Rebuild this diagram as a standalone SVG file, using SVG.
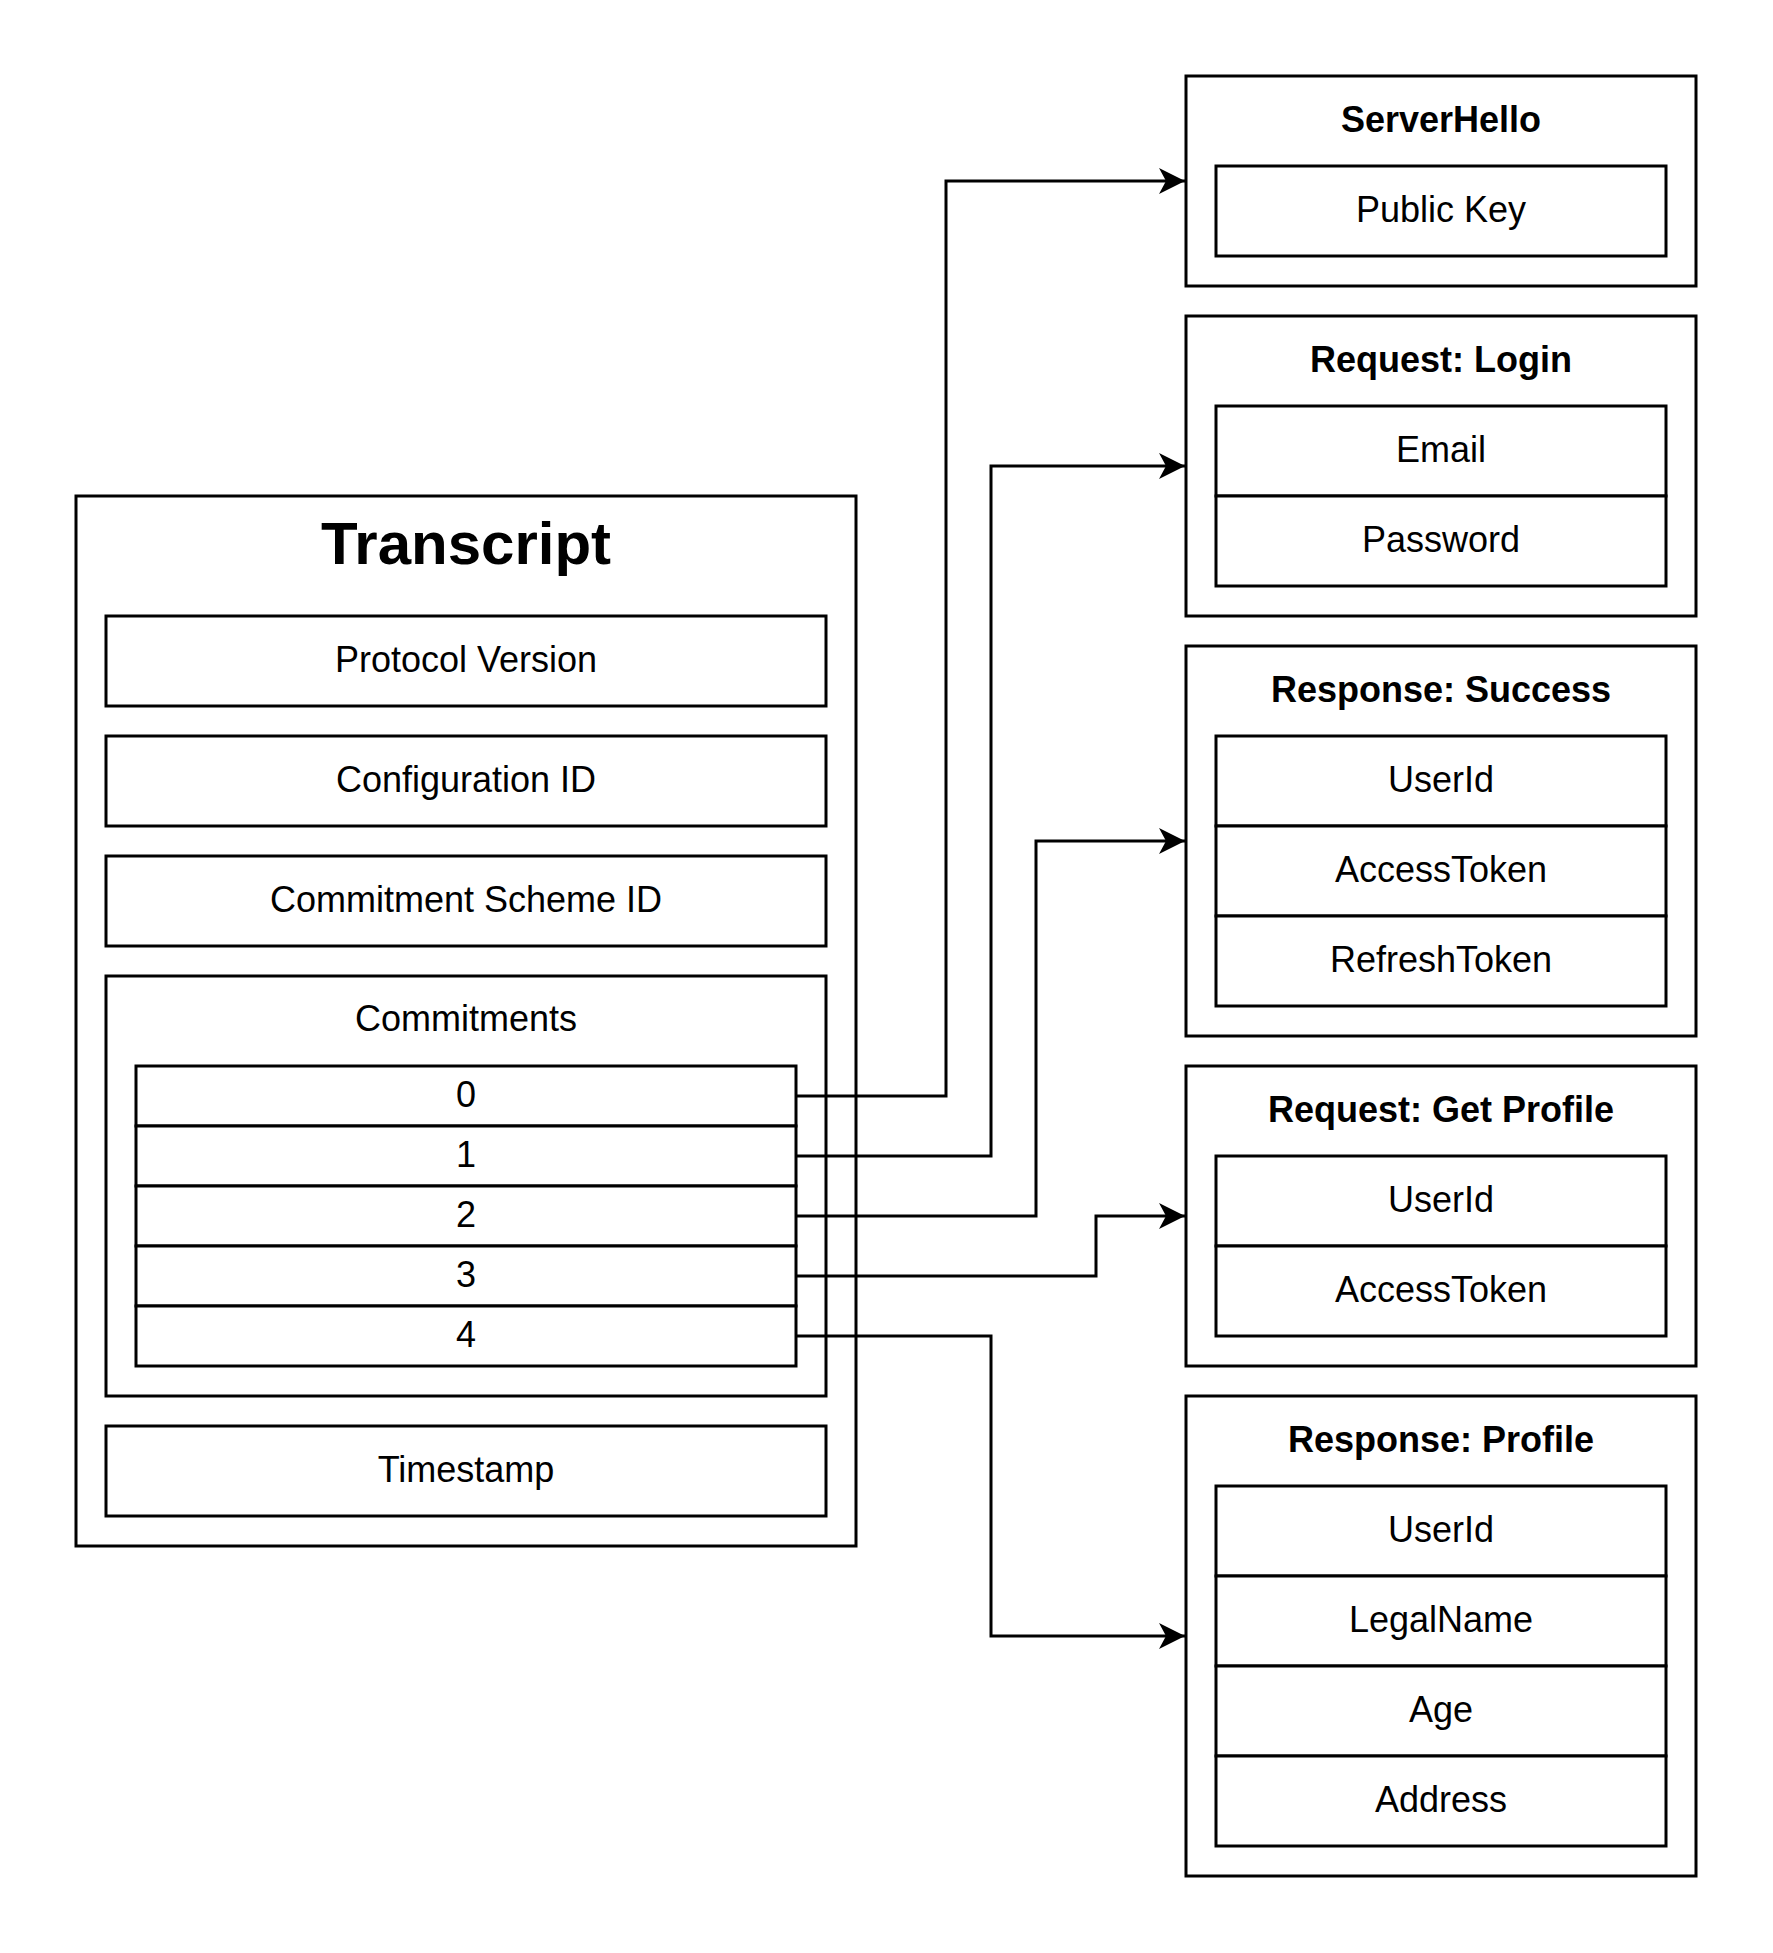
<svg xmlns="http://www.w3.org/2000/svg" width="1773" height="1953" viewBox="0 0 1773 1953">
<style>
.box{fill:#fff;stroke:#000;stroke-width:3}
.t{font-family:"Liberation Sans",Arial,sans-serif;font-size:36px;fill:#000;text-anchor:middle}
.b{font-weight:bold}
.title{font-family:"Liberation Sans",Arial,sans-serif;font-size:60px;font-weight:bold;fill:#000;text-anchor:middle}
.edge{fill:none;stroke:#000;stroke-width:3}
</style>
<defs>
<marker id="arrow" markerUnits="userSpaceOnUse" markerWidth="30" markerHeight="30" viewBox="-28 -15 30 30" refX="0" refY="0" orient="auto">
<path d="M0,0 L-26,-13 L-19,0 L-26,13 Z" fill="#000"/>
</marker>
</defs>
<rect width="1773" height="1953" fill="#fff"/>

<g id="transcript">
<rect class="box" x="76" y="496" width="780" height="1050"/>
<text class="title" x="466" y="564">Transcript</text>
</g>
<g id="protocol-version">
<rect class="box" x="106" y="616" width="720" height="90"/>
<text class="t" x="466" y="672">Protocol Version</text>
</g>
<g id="configuration-id">
<rect class="box" x="106" y="736" width="720" height="90"/>
<text class="t" x="466" y="792">Configuration ID</text>
</g>
<g id="commitment-scheme-id">
<rect class="box" x="106" y="856" width="720" height="90"/>
<text class="t" x="466" y="912">Commitment Scheme ID</text>
</g>
<g id="commitments">
<rect class="box" x="106" y="976" width="720" height="420"/>
<text class="t" x="466" y="1031">Commitments</text>
</g>
<g id="commitment-0">
<rect class="box" x="136" y="1066" width="660" height="60"/>
<text class="t" x="466" y="1107">0</text>
</g>
<g id="commitment-1">
<rect class="box" x="136" y="1126" width="660" height="60"/>
<text class="t" x="466" y="1167">1</text>
</g>
<g id="commitment-2">
<rect class="box" x="136" y="1186" width="660" height="60"/>
<text class="t" x="466" y="1227">2</text>
</g>
<g id="commitment-3">
<rect class="box" x="136" y="1246" width="660" height="60"/>
<text class="t" x="466" y="1287">3</text>
</g>
<g id="commitment-4">
<rect class="box" x="136" y="1306" width="660" height="60"/>
<text class="t" x="466" y="1347">4</text>
</g>
<g id="timestamp">
<rect class="box" x="106" y="1426" width="720" height="90"/>
<text class="t" x="466" y="1482">Timestamp</text>
</g>

<g id="server-hello">
<rect class="box" x="1186" y="76" width="510" height="210"/>
<text class="t b" x="1441" y="132">ServerHello</text>
<rect class="box" x="1216" y="166" width="450" height="90"/>
<text class="t" x="1441" y="222">Public Key</text>
</g>

<g id="request-login">
<rect class="box" x="1186" y="316" width="510" height="300"/>
<text class="t b" x="1441" y="372">Request: Login</text>
<rect class="box" x="1216" y="406" width="450" height="90"/>
<text class="t" x="1441" y="462">Email</text>
<rect class="box" x="1216" y="496" width="450" height="90"/>
<text class="t" x="1441" y="552">Password</text>
</g>

<g id="response-success">
<rect class="box" x="1186" y="646" width="510" height="390"/>
<text class="t b" x="1441" y="702">Response: Success</text>
<rect class="box" x="1216" y="736" width="450" height="90"/>
<text class="t" x="1441" y="792">UserId</text>
<rect class="box" x="1216" y="826" width="450" height="90"/>
<text class="t" x="1441" y="882">AccessToken</text>
<rect class="box" x="1216" y="916" width="450" height="90"/>
<text class="t" x="1441" y="972">RefreshToken</text>
</g>

<g id="request-get-profile">
<rect class="box" x="1186" y="1066" width="510" height="300"/>
<text class="t b" x="1441" y="1122">Request: Get Profile</text>
<rect class="box" x="1216" y="1156" width="450" height="90"/>
<text class="t" x="1441" y="1212">UserId</text>
<rect class="box" x="1216" y="1246" width="450" height="90"/>
<text class="t" x="1441" y="1302">AccessToken</text>
</g>

<g id="response-profile">
<rect class="box" x="1186" y="1396" width="510" height="480"/>
<text class="t b" x="1441" y="1452">Response: Profile</text>
<rect class="box" x="1216" y="1486" width="450" height="90"/>
<text class="t" x="1441" y="1542">UserId</text>
<rect class="box" x="1216" y="1576" width="450" height="90"/>
<text class="t" x="1441" y="1632">LegalName</text>
<rect class="box" x="1216" y="1666" width="450" height="90"/>
<text class="t" x="1441" y="1722">Age</text>
<rect class="box" x="1216" y="1756" width="450" height="90"/>
<text class="t" x="1441" y="1812">Address</text>
</g>

<g id="connectors">
<path class="edge" marker-end="url(#arrow)" d="M796,1096 H946 V181 H1185"/>
<path class="edge" marker-end="url(#arrow)" d="M796,1156 H991 V466 H1185"/>
<path class="edge" marker-end="url(#arrow)" d="M796,1216 H1036 V841 H1185"/>
<path class="edge" marker-end="url(#arrow)" d="M796,1276 H1096 V1216 H1185"/>
<path class="edge" marker-end="url(#arrow)" d="M796,1336 H991 V1636 H1185"/>
</g>
</svg>
